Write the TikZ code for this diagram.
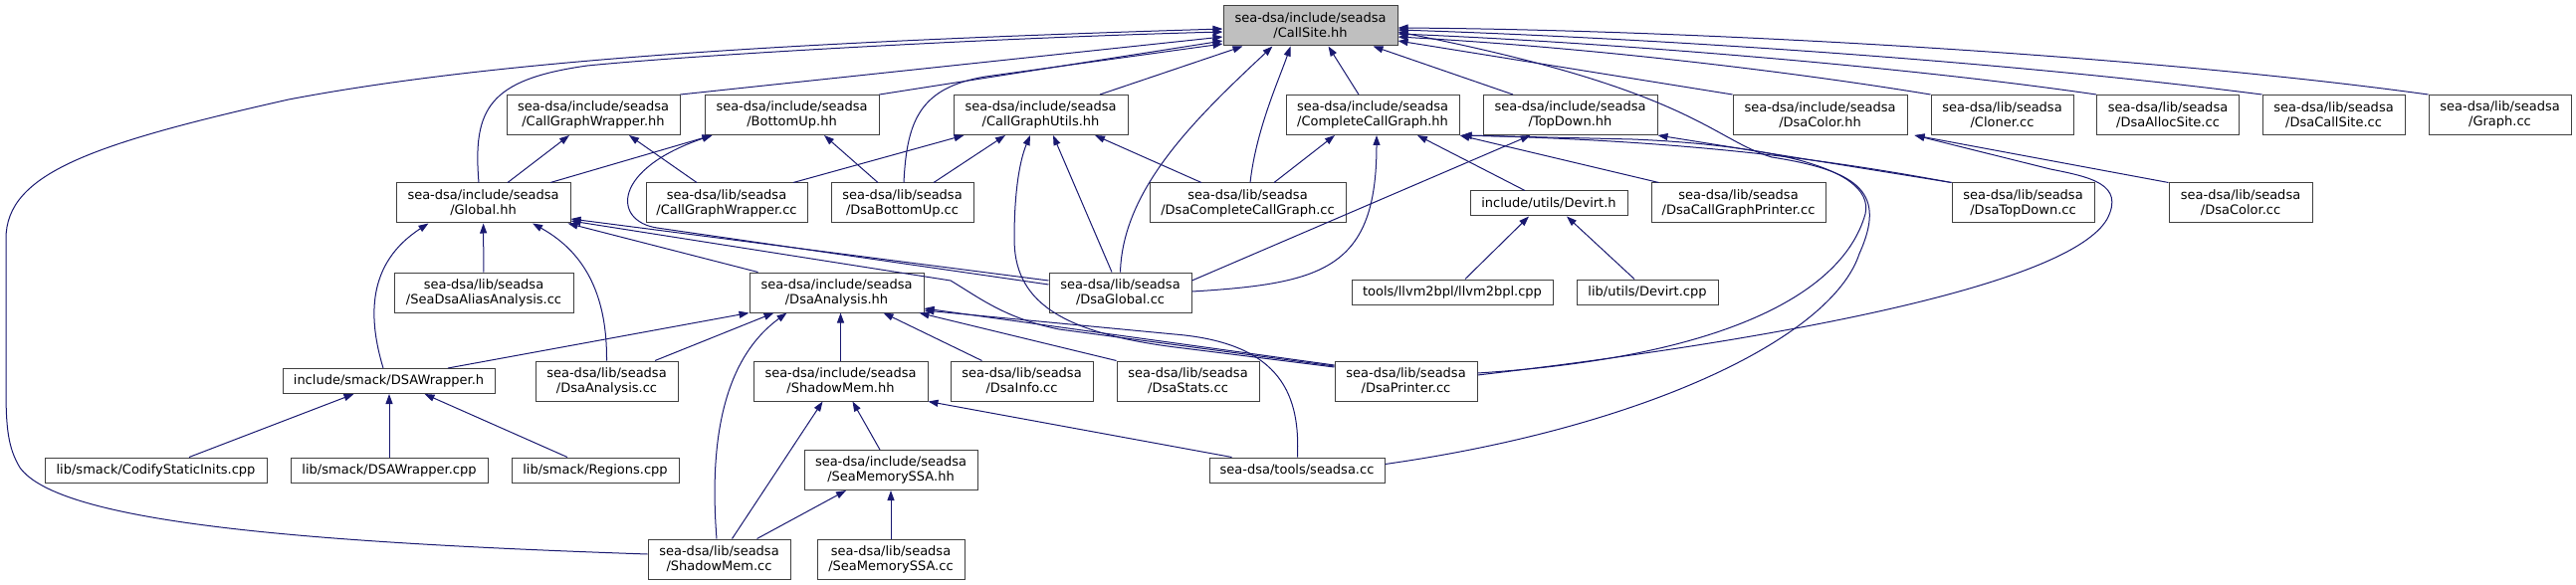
\documentclass[tikz,border=0pt]{standalone}
\usepackage{fontspec}
\newfontfamily\graphfont{DejaVu Sans}
\usepackage{tikz}
\usetikzlibrary{arrows.meta, calc}
\definecolor{edgeblue}{HTML}{191970}
\definecolor{boxgray}{HTML}{404040}
\definecolor{rootgray}{HTML}{BFBFBF}

\begin{document}
\begin{tikzpicture}[x=1pt, y=-1pt,
  incfile/.style={draw=boxgray, fill=white, line width=1pt, inner sep=0pt,
    align=center, minimum height=40pt, font={\graphfont\fontsize{13}{15}\selectfont}},
  rootfile/.style={incfile, fill=rootgray},
  oneline/.style={minimum height=25pt},
  boxw/.style={minimum width=#1},
  incl/.style={draw=edgeblue, line width=1pt, -{Triangle[length=10pt,width=7pt]}}]
  \useasboundingbox (0,0) rectangle (2588,588);
  % ---- row 0: the header itself ----
  \node[rootfile, boxw=175pt] (cs) at (1316.5,26) {sea-dsa/include/seadsa\\/CallSite.hh};
  % ---- row 1 ----
  \node[incfile, boxw=174pt] (cgwh) at (596,115.5) {sea-dsa/include/seadsa\\/CallGraphWrapper.hh};
  \node[incfile, boxw=175pt] (buh) at (795.5,115.5) {sea-dsa/include/seadsa\\/BottomUp.hh};
  \node[incfile, boxw=175pt] (cguh) at (1045.5,115.5) {sea-dsa/include/seadsa\\/CallGraphUtils.hh};
  \node[incfile, boxw=174pt] (ccgh) at (1379,115.5) {sea-dsa/include/seadsa\\/CompleteCallGraph.hh};
  \node[incfile, boxw=175pt] (tdh) at (1577.5,115.5) {sea-dsa/include/seadsa\\/TopDown.hh};
  \node[incfile, boxw=175pt] (colorh) at (1828.5,115.5) {sea-dsa/include/seadsa\\/DsaColor.hh};
  \node[incfile, boxw=143pt] (cloner) at (2011.5,115.5) {sea-dsa/lib/seadsa\\/Cloner.cc};
  \node[incfile, boxw=143pt] (alloc) at (2178,115.5) {sea-dsa/lib/seadsa\\/DsaAllocSite.cc};
  \node[incfile, boxw=143pt] (dcs) at (2344.5,115.5) {sea-dsa/lib/seadsa\\/DsaCallSite.cc};
  \node[incfile, boxw=143pt] (graph) at (2511.5,115.5) {sea-dsa/lib/seadsa\\/Graph.cc};
  % ---- row 2 ----
  \node[incfile, boxw=175pt] (globalh) at (485.5,204) {sea-dsa/include/seadsa\\/Global.hh};
  \node[incfile, boxw=162pt] (cgwcc) at (730,204) {sea-dsa/lib/seadsa\\/CallGraphWrapper.cc};
  \node[incfile, boxw=143pt] (dbu) at (906.5,204) {sea-dsa/lib/seadsa\\/DsaBottomUp.cc};
  \node[incfile, boxw=197pt] (dccg) at (1253.5,204) {sea-dsa/lib/seadsa\\/DsaCompleteCallGraph.cc};
  \node[incfile, oneline, boxw=158pt] (devirth) at (1556,204.5) {include/utils/Devirt.h};
  \node[incfile, boxw=175pt] (dcgp) at (1746.5,204) {sea-dsa/lib/seadsa\\/DsaCallGraphPrinter.cc};
  \node[incfile, boxw=143pt] (dtd) at (2032.5,204) {sea-dsa/lib/seadsa\\/DsaTopDown.cc};
  \node[incfile, boxw=144pt] (dcolor) at (2251,204) {sea-dsa/lib/seadsa\\/DsaColor.cc};
  % ---- row 3 ----
  \node[incfile, boxw=180pt] (seadsaaa) at (486,294) {sea-dsa/lib/seadsa\\/SeaDsaAliasAnalysis.cc};
  \node[incfile, boxw=175pt] (dah) at (840.5,294) {sea-dsa/include/seadsa\\/DsaAnalysis.hh};
  \node[incfile, boxw=143pt] (dglobal) at (1125.5,294) {sea-dsa/lib/seadsa\\/DsaGlobal.cc};
  \node[incfile, oneline, boxw=202pt] (llvm) at (1459,293.5) {tools/llvm2bpl/llvm2bpl.cpp};
  \node[incfile, oneline, boxw=142pt] (devirtcpp) at (1655,293.5) {lib/utils/Devirt.cpp};
  % ---- row 4 ----
  \node[incfile, oneline, boxw=213pt] (dsawh) at (390.5,383) {include/smack/DSAWrapper.h};
  \node[incfile, boxw=143pt] (dacc) at (609.5,383) {sea-dsa/lib/seadsa\\/DsaAnalysis.cc};
  \node[incfile, boxw=175pt] (smh) at (844.5,383) {sea-dsa/include/seadsa\\/ShadowMem.hh};
  \node[incfile, boxw=143pt] (dinfo) at (1026.5,383) {sea-dsa/lib/seadsa\\/DsaInfo.cc};
  \node[incfile, boxw=143pt] (dstats) at (1193.5,383) {sea-dsa/lib/seadsa\\/DsaStats.cc};
  \node[incfile, boxw=143pt] (dprinter) at (1412.5,383) {sea-dsa/lib/seadsa\\/DsaPrinter.cc};
  % ---- row 5 ----
  \node[incfile, oneline, boxw=223pt] (codify) at (156.5,472.5) {lib/smack/CodifyStaticInits.cpp};
  \node[incfile, oneline, boxw=198pt] (dsawcpp) at (391,472.5) {lib/smack/DSAWrapper.cpp};
  \node[incfile, oneline, boxw=168pt] (regions) at (598,472.5) {lib/smack/Regions.cpp};
  \node[incfile, boxw=174pt] (smssah) at (895,472.5) {sea-dsa/include/seadsa\\/SeaMemorySSA.hh};
  \node[incfile, oneline, boxw=176pt] (seadsacc) at (1303,472.5) {sea-dsa/tools/seadsa.cc};
  % ---- row 6 ----
  \node[incfile, boxw=143pt] (smcc) at (722.5,562) {sea-dsa/lib/seadsa\\/ShadowMem.cc};
  \node[incfile, boxw=148pt] (smssacc) at (895,562) {sea-dsa/lib/seadsa\\/SeaMemorySSA.cc};

  % ---- edges into CallSite.hh ----
  \draw[incl] ($(smcc.west)+(0,-5)$) .. controls (300,545) and (60,525) .. (20,470)
    .. controls (8,450) and (6,430) .. (6,390) -- (6,240)
    .. controls (6,175) and (90,145) .. (290,100)
    .. controls (500,60) and (800,42) .. ($(cs.west)+(0,3)$);
  \draw[incl] ($(globalh.north)+(-4.5,0)$) .. controls (475,110) and (490,80) .. (590,66)
    .. controls (700,55) and (1000,38) .. ($(cs.west)+(0,6)$);
  \draw[incl] (cgwh.north east) -- ($(cs.west)+(0,11)$);
  \draw[incl] (buh.north east) -- ($(cs.west)+(0,15)$);
  \draw[incl] ($(dbu.north)+(1.5,0)$) .. controls (911,120) and (925,88) .. (990,77)
    -- ($(cs.west)+(0,18)$);
  \draw[incl] ($(cguh.north)+(59.5,0)$) -- ($(cs.south west)+(20,0)$);
  \draw[incl] (dglobal.north) .. controls (1128,190) and (1200,120) .. ($(cs.south west)+(50,0)$);
  \draw[incl] ($(dccg.north)+(2.5,0)$) .. controls (1262,130) and (1285,80) .. ($(cs.south west)+(68,0)$);
  \draw[incl] ($(ccgh.north)+(-14,0)$) -- ($(cs.south)+(18,0)$);
  \draw[incl] ($(tdh.north)+(-57.5,0)$) -- ($(cs.south east)+(-25,0)$);
  \draw[incl] (colorh.north west) -- ($(cs.east)+(0,15)$);
  \draw[incl] (cloner.north west) .. controls (1800,72) and (1600,48) .. ($(cs.east)+(0,11)$);
  \draw[incl] (alloc.north west) .. controls (1900,65) and (1600,42) .. ($(cs.east)+(0,8)$);
  \draw[incl] (dcs.north west) .. controls (2000,60) and (1650,38) .. ($(cs.east)+(0,4)$);
  \draw[incl] (graph.north west) .. controls (2150,55) and (1700,30) .. ($(cs.east)+(0,2)$);
  \draw[incl] ($(seadsacc.east)+(0,-6)$) .. controls (1650,430) and (1840,340) .. (1868,255)
    .. controls (1895,195) and (1870,172) .. (1780,158)
    .. controls (1720,140) and (1700,90) .. ($(cs.east)+(0,6)$);

  % ---- second level ----
  \draw[incl] ($(globalh.north)+(24.5,0)$) -- ($(cgwh.south)+(-24,0)$);
  \draw[incl] ($(globalh.north)+(67.5,0)$) -- ($(buh.south west)+(8,0)$);
  \draw[incl] ($(cgwcc.north)+(-30,0)$) -- ($(cgwh.south)+(36,0)$);
  \draw[incl] ($(cgwcc.north)+(67,0)$) -- ($(cguh.south west)+(11,0)$);
  \draw[incl] ($(dbu.north)+(-24.5,0)$) -- ($(buh.south)+(32.5,0)$);
  \draw[incl] ($(dbu.north)+(31.5,0)$) -- ($(cguh.south)+(-35.5,0)$);
  \draw[incl] ($(dglobal.north)+(-8.5,0)$) -- ($(cguh.south)+(12.5,0)$);
  \draw[incl] ($(dccg.north)+(-46.5,0)$) -- ($(cguh.south)+(54.5,0)$);
  \draw[incl] ($(dglobal.west)+(0,-8)$) -- (660,229) .. controls (615,222) and (615,170)
    .. ($(buh.south west)+(8,0)$);
  \draw[incl] ($(dccg.north)+(26.5,0)$) -- ($(ccgh.south)+(-38,0)$);
  \draw[incl] ($(devirth.north)+(-24,0)$) -- ($(ccgh.south)+(45,0)$);
  \draw[incl] ($(dglobal.east)+(0,-1)$) .. controls (1330,285) and (1383,270) .. ($(ccgh.south)+(4,0)$);
  \draw[incl] ($(dcgp.north west)+(8,0)$) -- (ccgh.south east);
  \draw[incl] (dtd.north west) .. controls (1860,165) and (1720,142) .. ($(ccgh.south east)+(2,0)$);
  \draw[incl] ($(dprinter.east)+(0,-8)$) .. controls (1720,360) and (1850,300) .. (1874,215)
    .. controls (1885,165) and (1760,145) .. (1640,140) -- ($(ccgh.south east)+(2,0)$);
  \draw[incl] (dtd.north west) -- (tdh.south east);
  \draw[incl] ($(dglobal.east)+(0,-12)$) -- ($(tdh.south west)+(48,0)$);
  \draw[incl] (dcolor.north west) -- ($(colorh.south east)+(7,0)$);
  \draw[incl] ($(dprinter.east)+(0,-6)$) .. controls (1800,340) and (2080,285) .. (2117,220)
    .. controls (2135,185) and (2100,178) .. (2060,170) -- ($(colorh.south east)+(7,0)$);
  \draw[incl] ($(dprinter.west)+(0,-14)$) -- (1189,350) .. controls (1060,335) and (1019,300) .. (1019,240)
    .. controls (1019,190) and (1025,160) .. ($(cguh.south)+(-10.5,0)$);

  % ---- Global.hh and Devirt.h ----
  \draw[incl] (seadsaaa) -- (globalh);
  \draw[incl] ($(dah.north west)+(9,0)$) -- ($(globalh.south east)+(-3,0)$);
  \draw[incl] ($(dglobal.west)+(0,-12)$) -- ($(globalh.east)+(0,16)$);
  \draw[incl] ($(dprinter.west)+(0,-15)$) -- (1064,331) .. controls (1010,320) and (985,300) .. (955,282)
    -- ($(globalh.east)+(0,18)$);
  \draw[incl] ($(dsawh.north)+(-5.5,0)$) .. controls (370,320) and (368,265) .. ($(globalh.south west)+(33,0)$);
  \draw[incl] (dacc.north) .. controls (610,300) and (590,255) .. ($(globalh.south)+(49.5,0)$);
  \draw[incl] ($(llvm.north)+(13,0)$) -- ($(devirth.south)+(-20,0)$);
  \draw[incl] ($(devirtcpp.north)+(-13,0)$) -- ($(devirth.south)+(18,0)$);

  % ---- DsaAnalysis.hh ----
  \draw[incl] ($(dsawh.north)+(59.5,0)$) -- (dah.south west);
  \draw[incl] ($(dacc.north)+(48.5,0)$) -- ($(dah.south west)+(25,0)$);
  \draw[incl] ($(smcc.north)+(-2.5,0)$) .. controls (712,440) and (728,360) .. ($(dah.south west)+(38,0)$);
  \draw[incl] (smh.north) -- ($(dah.south)+(4,0)$);
  \draw[incl] ($(dinfo.north)+(-40,0)$) -- ($(dah.south)+(47,0)$);
  \draw[incl] (dstats.north west) -- ($(dah.south east)+(-5,0)$);
  \draw[incl] ($(dprinter.west)+(0,-16)$) -- ($(dah.east)+(0,16)$);
  \draw[incl] ($(seadsacc.north west)+(89,0)$) .. controls (1306,400) and (1290,345) .. (1180,336)
    -- ($(dah.east)+(0,18)$);

  % ---- lower levels ----
  \draw[incl] ($(codify.north)+(33.5,0)$) -- ($(dsawh.south)+(-35,0)$);
  \draw[incl] (dsawcpp.north) -- ($(dsawh.south)+(0.5,0)$);
  \draw[incl] ($(regions.north)+(-28,0)$) -- ($(dsawh.south)+(36,0)$);
  \draw[incl] ($(smcc.north)+(13,0)$) -- ($(smh.south)+(-18,0)$);
  \draw[incl] ($(smssah.north)+(-11,0)$) -- ($(smh.south)+(12,0)$);
  \draw[incl] ($(seadsacc.north west)+(23,0)$) -- (smh.south east);
  \draw[incl] ($(smcc.north east)+(-34,0)$) -- ($(smssah.south)+(-45,0)$);
  \draw[incl] (smssacc.north) -- (smssah.south);
\end{tikzpicture}
\end{document}
